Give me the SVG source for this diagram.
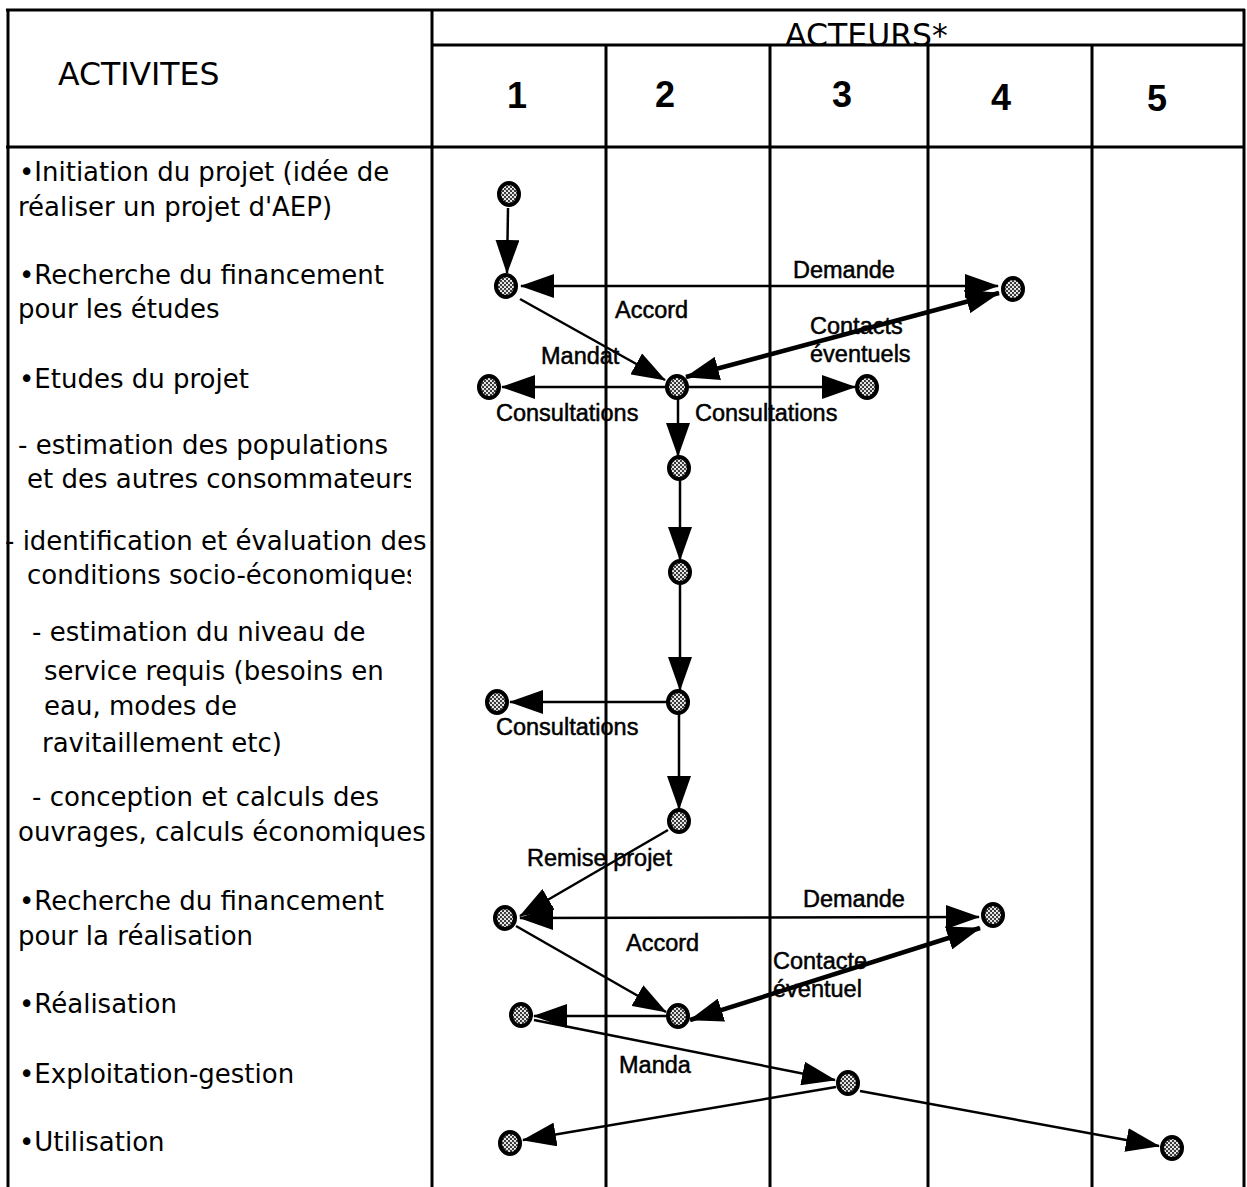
<svg xmlns="http://www.w3.org/2000/svg" width="1247" height="1187" viewBox="0 0 1247 1187">
<style>
.grid{stroke:#000;stroke-width:3;fill:none}
.act{font-family:"DejaVu Sans",sans-serif;font-size:26px;fill:#000}
.hdr{font-family:"DejaVu Sans",sans-serif;font-size:31.5px;fill:#000}
.num{font-family:"Liberation Sans",Arial,sans-serif;font-size:36px;font-weight:bold;fill:#000}
.lbl{font-family:"Liberation Sans",Arial,sans-serif;font-size:23.5px;fill:#000;stroke:#000;stroke-width:0.5}
.node ellipse{fill:url(#dots);stroke:#000;stroke-width:4}
.c{stroke:#000;stroke-width:2.5;fill:none;marker-end:url(#ah)}
.c2{stroke:#000;stroke-width:2.5;fill:none;marker-end:url(#ah);marker-start:url(#ah)}
.thick{stroke-width:4.5}
</style>
<defs>
<pattern id="dots" width="4" height="4" patternUnits="userSpaceOnUse">
<rect width="4" height="4" fill="#eeeeee"/>
<circle cx="1" cy="1" r="1.15" fill="#333"/>
<circle cx="3" cy="3" r="1.15" fill="#333"/>
</pattern>
<marker id="ah" markerUnits="userSpaceOnUse" markerWidth="34" markerHeight="24" viewBox="0 0 34 24" refX="33" refY="12" orient="auto-start-reverse">
<path d="M0,0 L34,12 L0,24 Z" fill="#000"/>
</marker>
<clipPath id="clipA"><rect x="6" y="150" width="425" height="1037"/></clipPath>
<clipPath id="clipB"><rect x="6" y="150" width="405" height="1037"/></clipPath>
</defs>
<rect width="1247" height="1187" fill="#fff"/>

<g id="table">
<line class="grid" x1="6" y1="10" x2="1245" y2="10"/>
<line class="grid" x1="432" y1="45" x2="1245" y2="45"/>
<line class="grid" x1="6" y1="147" x2="1245" y2="147"/>
<line class="grid" x1="8" y1="9" x2="8" y2="1187"/>
<line class="grid" x1="432" y1="9" x2="432" y2="1187"/>
<line class="grid" x1="606" y1="45" x2="606" y2="1187"/>
<line class="grid" x1="770" y1="45" x2="770" y2="1187"/>
<line class="grid" x1="928" y1="45" x2="928" y2="1187"/>
<line class="grid" x1="1092" y1="45" x2="1092" y2="1187"/>
<line class="grid" x1="1244" y1="9" x2="1244" y2="1187"/>
<text class="hdr" x="58" y="85">ACTIVITES</text>
<text class="hdr" x="785" y="46">ACTEURS*</text>
<text class="num" x="517" y="108" text-anchor="middle">1</text>
<text class="num" x="665" y="107" text-anchor="middle">2</text>
<text class="num" x="842" y="107" text-anchor="middle">3</text>
<text class="num" x="1001" y="110" text-anchor="middle">4</text>
<text class="num" x="1157" y="111" text-anchor="middle">5</text>
</g>

<g id="activities" clip-path="url(#clipA)">
<text class="act" x="19" y="181">•Initiation du projet (idée de</text>
<text class="act" x="18" y="216">réaliser un projet d'AEP)</text>
<text class="act" x="19" y="284">•Recherche du financement</text>
<text class="act" x="18" y="318">pour les études</text>
<text class="act" x="19" y="388">•Etudes du projet</text>
<text class="act" x="18" y="454">- estimation des populations</text>
<text class="act" x="27" y="488" clip-path="url(#clipB)">et des autres consommateurs</text>
<text class="act" x="5" y="550">- identification et évaluation des</text>
<text class="act" x="27" y="584" clip-path="url(#clipB)">conditions socio-économiques</text>
<text class="act" x="32" y="641">- estimation du niveau de</text>
<text class="act" x="44" y="680">service requis (besoins en</text>
<text class="act" x="44" y="715">eau, modes de</text>
<text class="act" x="42" y="752">ravitaillement etc)</text>
<text class="act" x="32" y="806">- conception et calculs des</text>
<text class="act" x="18" y="841">ouvrages, calculs économiques</text>
<text class="act" x="19" y="910">•Recherche du financement</text>
<text class="act" x="18" y="945">pour la réalisation</text>
<text class="act" x="19" y="1013">•Réalisation</text>
<text class="act" x="19" y="1083">•Exploitation-gestion</text>
<text class="act" x="19" y="1151">•Utilisation</text>
</g>

<g id="connectors">
<path class="c" d="M508,208 L507,273"/>
<path class="c2" d="M521,286 L998,286"/>
<path class="c" d="M520,299 L665,380"/>
<path class="c2 thick" d="M686,377 L999,293"/>
<path class="c" d="M667,387 L502,387"/>
<path class="c" d="M688,387 L855,387"/>
<path class="c" d="M678,398 L678,456"/>
<path class="c" d="M680,480 L680,560"/>
<path class="c" d="M680,584 L680,690"/>
<path class="c" d="M667,702 L510,702"/>
<path class="c" d="M679,714 L679,809"/>
<path class="c" d="M668,830 L520,916"/>
<path class="c2" d="M520,918 L979,917"/>
<path class="c" d="M516,926 L666,1012"/>
<path class="c2 thick" d="M690,1020 L980,928"/>
<path class="c" d="M666,1016 L534,1016"/>
<path class="c" d="M534,1020 L835,1080"/>
<path class="c" d="M836,1087 L523,1140"/>
<path class="c" d="M860,1091 L1159,1146"/>
<text class="lbl" x="793" y="278">Demande</text>
<text class="lbl" x="615" y="318">Accord</text>
<text class="lbl" x="810" y="334">Contacts</text>
<text class="lbl" x="810" y="362">éventuels</text>
<text class="lbl" x="541" y="364">Mandat</text>
<text class="lbl" x="496" y="421">Consultations</text>
<text class="lbl" x="695" y="421">Consultations</text>
<text class="lbl" x="496" y="735">Consultations</text>
<text class="lbl" x="527" y="866">Remise projet</text>
<text class="lbl" x="803" y="907">Demande</text>
<text class="lbl" x="626" y="951">Accord</text>
<text class="lbl" x="773" y="969">Contacte</text>
<text class="lbl" x="773" y="997">éventuel</text>
<text class="lbl" x="619" y="1073">Manda</text>
</g>

<g id="n1" class="node"><ellipse cx="509" cy="194" rx="10" ry="11"/></g>
<g id="n2" class="node"><ellipse cx="506" cy="286" rx="10" ry="11"/></g>
<g id="n3" class="node"><ellipse cx="1013" cy="289" rx="10" ry="11"/></g>
<g id="n4" class="node"><ellipse cx="677" cy="387" rx="10" ry="11"/></g>
<g id="n5" class="node"><ellipse cx="489" cy="387" rx="10" ry="11"/></g>
<g id="n6" class="node"><ellipse cx="867" cy="387" rx="10" ry="11"/></g>
<g id="n7" class="node"><ellipse cx="679" cy="468" rx="10" ry="11"/></g>
<g id="n8" class="node"><ellipse cx="680" cy="572" rx="10" ry="11"/></g>
<g id="n9" class="node"><ellipse cx="678" cy="702" rx="10" ry="11"/></g>
<g id="n10" class="node"><ellipse cx="497" cy="702" rx="10" ry="11"/></g>
<g id="n11" class="node"><ellipse cx="679" cy="821" rx="10" ry="11"/></g>
<g id="n12" class="node"><ellipse cx="505" cy="918" rx="10" ry="11"/></g>
<g id="n13" class="node"><ellipse cx="993" cy="915" rx="10" ry="11"/></g>
<g id="n14" class="node"><ellipse cx="678" cy="1016" rx="10" ry="11"/></g>
<g id="n15" class="node"><ellipse cx="521" cy="1015" rx="10" ry="11"/></g>
<g id="n16" class="node"><ellipse cx="848" cy="1083" rx="10" ry="11"/></g>
<g id="n17" class="node"><ellipse cx="510" cy="1143" rx="10" ry="11"/></g>
<g id="n18" class="node"><ellipse cx="1172" cy="1148" rx="10" ry="11"/></g>
</svg>
